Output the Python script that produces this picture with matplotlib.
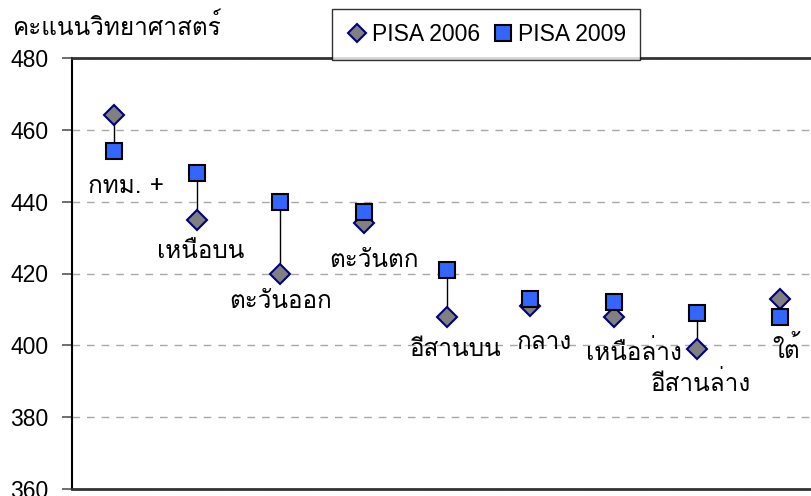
import matplotlib
matplotlib.use("Agg")
import matplotlib.pyplot as plt
from matplotlib import font_manager as fm
from matplotlib.ft2font import FT2Font
from matplotlib.lines import Line2D

regions = ["กทม. +", "เหนือบน", "ตะวันออก", "ตะวันตก", "อีสานบน",
           "กลาง", "เหนือล่าง", "อีสานล่าง", "ใต้"]
pisa2006 = [464, 435, 420, 434, 408, 411, 408, 399, 413]
pisa2009 = [454, 448, 440, 437, 421, 413, 412, 409, 408]
yticks = [360, 380, 400, 420, 440, 460, 480]
ylabel = "คะแนนวิทยาศาสตร์"
series_names = ["PISA 2006", "PISA 2009"]


def find_thai_font():
    prefs = ["Loma", "Tlwg Typo", "Garuda", "Noto Sans Thai", "Noto Sans Thai UI",
             "Norasi", "Kinnari", "Sawasdee", "Umpush", "Waree", "Laksaman", "Purisa"]
    found = {}
    for f in fm.fontManager.ttflist:
        try:
            if 0x0E04 in FT2Font(f.fname).get_charmap():
                found.setdefault(f.name, f.fname)
        except Exception:
            pass
    for p in prefs:
        if p in found:
            return p
    if found:
        return sorted(found)[0]
    return None


thai = find_thai_font()
fams = ([thai] if thai else []) + ["Liberation Sans", "DejaVu Sans"]
plt.rcParams['font.family'] = fams
num_font = ["Liberation Sans", "DejaVu Sans"]

fig = plt.figure(figsize=(8.12, 4.96), dpi=100)
ax = fig.add_axes([72 / 812, 1 - 489 / 496, (822 - 72) / 812, (489 - 58) / 496])

x = list(range(len(regions)))
for i in x:
    ax.plot([i, i], [pisa2006[i], pisa2009[i]], color="black", lw=1.0, zorder=2)
ax.plot(x, pisa2006, linestyle="none", marker="D", markersize=10.5,
        markerfacecolor="#808080", markeredgecolor="#000080", markeredgewidth=1.5, zorder=3)
ax.plot(x, pisa2009, linestyle="none", marker="s", markersize=11.5,
        markerfacecolor="#3366FF", markeredgecolor="black", markeredgewidth=1.5, zorder=4)

offsets = [(12, -35), (4, -32), (0, -28), (10, -37), (9, -33),
           (14, -37), (20, -36), (4, -35), (6, -33)]
for i, name in enumerate(regions):
    lo = min(pisa2006[i], pisa2009[i])
    ax.annotate(name, xy=(i, lo), xytext=offsets[i], textcoords="offset pixels",
                ha="center", va="center", fontsize=17.5, color="black")

ax.set_xlim(-0.5, len(regions) - 0.5)
ax.set_ylim(360, 480)
ax.set_yticks(yticks)
ax.set_yticklabels([str(t) for t in yticks], fontfamily=num_font, fontsize=16.5)
ax.set_xticks([])
ax.tick_params(axis="y", direction="out", length=7, width=1.2, color="#555555", pad=10)
ax.yaxis.grid(True, linestyle=(0, (5.5, 5)), color="#a8a8a8", lw=1.0)
ax.set_axisbelow(True)

for s in ["top", "bottom"]:
    ax.spines[s].set_color("#333333")
    ax.spines[s].set_linewidth(2.0)
ax.spines["left"].set_color("black")
ax.spines["left"].set_linewidth(1.5)
ax.spines["right"].set_visible(False)

fig.text(12 / 812, 1 - 27 / 496, ylabel, ha="left", va="center", fontsize=17.5)

handles = [
    Line2D([], [], linestyle="none", marker="D", markersize=9,
           markerfacecolor="#808080", markeredgecolor="#000080", markeredgewidth=1.5),
    Line2D([], [], linestyle="none", marker="s", markersize=11,
           markerfacecolor="#3366FF", markeredgecolor="black", markeredgewidth=1.5),
]
leg = fig.legend(handles, series_names, loc="upper left",
                 bbox_to_anchor=(332 / 812, 1 - 9 / 496), bbox_transform=fig.transFigure,
                 ncol=2, frameon=True, fancybox=False, edgecolor="black",
                 borderaxespad=0, handletextpad=0.15, columnspacing=0.5,
                 handlelength=1.0, borderpad=0.6,
                 prop={"family": num_font, "size": 16.5})
leg.get_frame().set_linewidth(1.0)

fig.savefig("out.png", dpi=100)
